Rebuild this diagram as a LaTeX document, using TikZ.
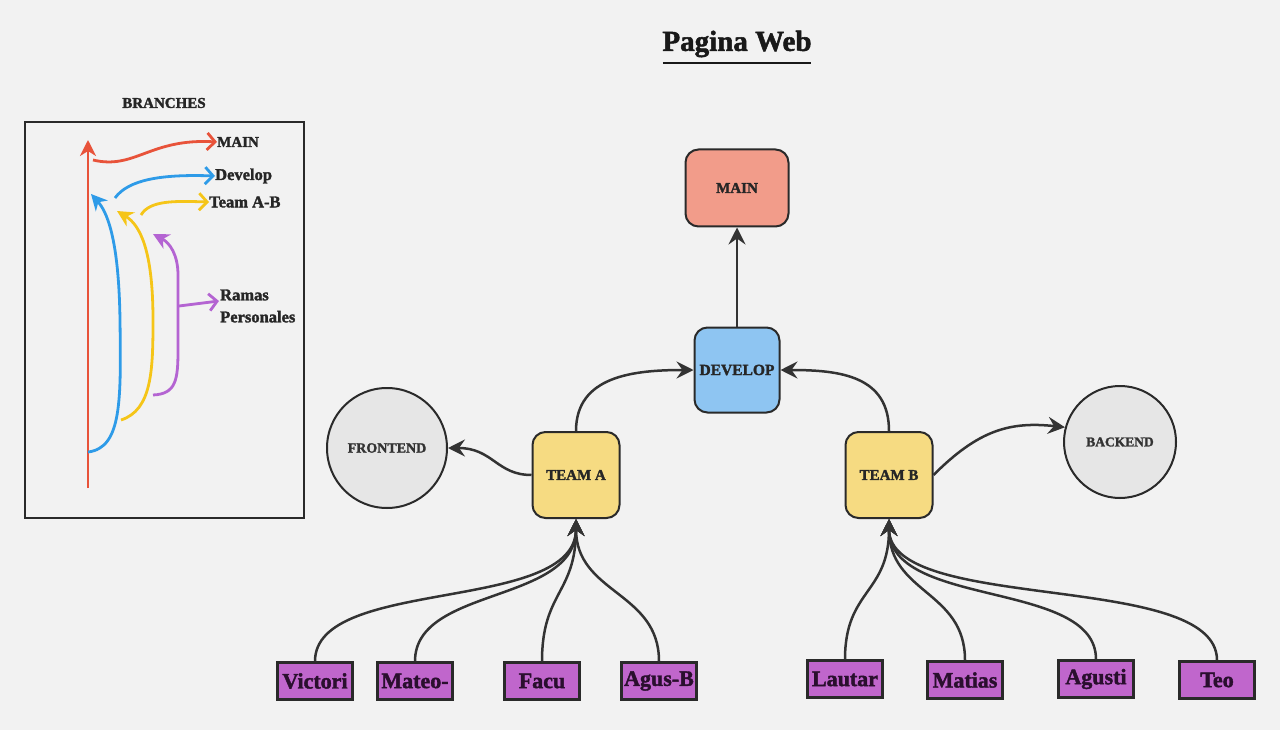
\documentclass[tikz,border=0pt]{standalone}
\usepackage{fontspec}
\setmainfont{Liberation Serif}[BoldFeatures={FakeBold=1.8}]
\usetikzlibrary{arrows.meta}
\definecolor{bg}{HTML}{F2F2F2}
\definecolor{edge}{HTML}{333333}
\definecolor{border}{HTML}{2A2A2A}
\definecolor{redb}{HTML}{E8533A}
\definecolor{blueb}{HTML}{2E9BE8}
\definecolor{yellowb}{HTML}{F5C518}
\definecolor{purpleb}{HTML}{B464D2}
\definecolor{mainfill}{HTML}{F29C8A}
\definecolor{devfill}{HTML}{8EC5F2}
\definecolor{teamfill}{HTML}{F6DB82}
\definecolor{circfill}{HTML}{E6E6E6}
\definecolor{leaffill}{HTML}{C066CC}
\definecolor{leaftext}{HTML}{2A0F2E}
\tikzset{
  rbox/.style={draw=border, line width=2pt, rounded corners=13pt, inner sep=0pt,
    font=\bfseries\fontsize{15}{18}\selectfont, text=black!85},
  circnode/.style={circle, draw=border, line width=2pt, fill=circfill, inner sep=0pt,
    font=\bfseries\fontsize{14}{16}\selectfont, text=black!80},
  leaf/.style={draw=border, line width=2.5pt, fill=leaffill, minimum width=75pt,
    minimum height=37pt, inner sep=0pt, font=\bfseries\fontsize{22}{24}\selectfont, text=leaftext},
  link/.style={draw=edge, line width=2.5pt, -{Stealth[length=17pt,width=17pt,inset=6pt]}},
  branch/.style={line width=2.8pt},
  solidtip/.style={-{Stealth[length=16pt,width=16pt,inset=5pt]}},
  opentip/.style={-{Straight Barb[length=8pt,width=17pt]}},
  blabel/.style={anchor=west, inner sep=0pt, font=\bfseries\fontsize{16.5}{18}\selectfont, text=black!85},
}
\begin{document}
\begin{tikzpicture}[x=1pt,y=-1pt]
\fill[bg] (0,0) rectangle (1280,730);
\useasboundingbox (0,0) rectangle (1280,730);

% title
\node[font=\bfseries\fontsize{29}{32}\selectfont, text=black!90] (title) at (737,44) {Pagina Web};
\coordinate (ul1) at ([xshift=4pt,yshift=-2pt]title.south west);
\coordinate (ul2) at ([xshift=-4pt,yshift=-2pt]title.south east);
\draw[black!90, line width=2.5pt] (ul1) -- (ul2);

% branches legend
\node[font=\bfseries\fontsize{15}{17}\selectfont, text=black!85] (btitle) at (164,103) {BRANCHES};
\draw[border, line width=2pt] (25,122) rectangle (304,518);

\coordinate (r0) at (88,488);
\coordinate (r1) at (88,140);
\draw[branch, redb, solidtip] (r0) -- (r1);
\node[blabel, font=\bfseries\fontsize{15}{18}\selectfont] (lmain) at (217,142) {MAIN};
\coordinate (r2) at (93,160);
\draw[branch, redb, opentip] (r2) .. controls (135,170) and (150,138) .. (lmain.west);

\coordinate (b0) at (88,452);
\coordinate (b1) at (120,320);
\coordinate (b2) at (91,194);
\draw[branch, blueb, solidtip] (b0) .. controls (122,448) and (121,400) .. (b1)
  .. controls (119,250) and (110,215) .. (b2);
\node[blabel] (ldev) at (215,176) {Develop};
\coordinate (b3) at (115,198);
\draw[branch, blueb, opentip] (b3) .. controls (128,180) and (160,174) .. (ldev.west);

\coordinate (y0) at (121,420);
\coordinate (y1) at (153,320);
\coordinate (y2) at (117,211);
\draw[branch, yellowb, solidtip] (y0) .. controls (152,410) and (153,370) .. (y1)
  .. controls (153,250) and (140,225) .. (y2);
\node[blabel] (lteam) at (209,202) {Team A-B};
\coordinate (y3) at (141,215);
\draw[branch, yellowb, opentip] (y3) .. controls (150,200) and (175,201) .. (lteam.west);

\coordinate (p0) at (153,395);
\coordinate (p1) at (178,350);
\coordinate (p2) at (178,275);
\coordinate (p3) at (153,234);
\draw[branch, purpleb, solidtip] (p0) .. controls (176,394) and (178,380) .. (p1) -- (p2)
  .. controls (178,255) and (170,243) .. (p3);
\node[blabel, align=left, font=\bfseries\fontsize{16.5}{22}\selectfont] (lramas) at (220,306) {Ramas\\Personales};
\coordinate (p4) at (179,306);
\draw[branch, purpleb, opentip] (p4) -- (219,301);

% main graph
\node[rbox, fill=mainfill, minimum width=103pt, minimum height=77pt] (main) at (737,188) {MAIN};
\node[rbox, fill=devfill, minimum width=85pt, minimum height=85pt, font=\bfseries\fontsize{15.5}{18}\selectfont] (dev) at (737,370) {DEVELOP};
\node[rbox, fill=teamfill, minimum width=87pt, minimum height=86pt] (ta) at (576,475) {TEAM A};
\node[rbox, fill=teamfill, minimum width=87pt, minimum height=86pt] (tb) at (889,475) {TEAM B};
\node[circnode, minimum size=120pt] (fe) at (387,448) {FRONTEND};
\node[circnode, minimum size=112pt, font=\bfseries\fontsize{13.5}{16}\selectfont] (be) at (1120,442) {BACKEND};

\node[leaf] (v) at (315,681) {Victori};
\node[leaf] (m) at (415,681) {Mateo-};
\node[leaf] (f) at (542,681) {Facu};
\node[leaf] (ab) at (659,681) {Agus-B};
\node[leaf] (l) at (845,679) {Lautar};
\node[leaf] (mt) at (965,680) {Matias};
\node[leaf] (ag) at (1096,679) {Agusti};
\node[leaf] (t) at (1217,680) {Teo};

\draw[link] (dev.north) -- (main.south);
\draw[link] (ta.north) .. controls +(0,-55) and +(-60,0) .. (dev.west);
\draw[link] (tb.north) .. controls +(0,-55) and +(60,0) .. (dev.east);
\draw[link] (ta.west) .. controls +(-35,0) and +(45,0) .. (fe.east);
\draw[link] (tb.east) .. controls +(45,-45) and +(-55,-6) .. (be.165);

\draw[link] (v.north) .. controls +(0,-85) and +(0,95) .. (ta.south);
\draw[link] (m.north) .. controls +(0,-75) and +(0,85) .. (ta.south);
\draw[link] (f.north) .. controls +(0,-70) and +(0,75) .. (ta.south);
\draw[link] (ab.north) .. controls +(0,-70) and +(0,75) .. (ta.south);

\draw[link] (l.north) .. controls +(0,-70) and +(0,75) .. (tb.south);
\draw[link] (mt.north) .. controls +(0,-70) and +(0,75) .. (tb.south);
\draw[link] (ag.north) .. controls +(0,-80) and +(0,90) .. (tb.south);
\draw[link] (t.north) .. controls +(0,-90) and +(0,95) .. (tb.south);
\end{tikzpicture}
\end{document}
